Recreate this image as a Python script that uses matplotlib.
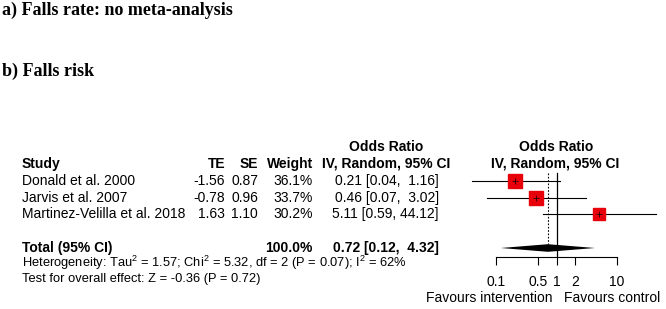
import numpy as np
import matplotlib
matplotlib.use("Agg")
import matplotlib.pyplot as plt

plt.rcParams['font.family'] = ['Liberation Sans', 'DejaVu Sans']
plt.rcParams['mathtext.fontset'] = 'custom'
plt.rcParams['mathtext.rm'] = 'Liberation Sans'

# study data
studies = ["Donald et al. 2000", "Jarvis et al. 2007", "Martinez-Velilla et al. 2018"]
te = [-1.56, -0.78, 1.63]
se = [0.87, 0.96, 1.10]
weight = [36.1, 33.7, 30.2]
odds = [0.21, 0.46, 5.11]
ci_low = [0.04, 0.07, 0.59]
ci_high = [1.16, 3.02, 44.12]

total_or = 0.72
total_low = 0.12
total_high = 4.32
total_weight = 100.0

tick_vals = [0.1, 0.5, 1, 2, 10]
tick_labels = ["0.1", "0.5", "1", "2", "10"]

W, H = 666, 309
fig = plt.figure(figsize=(W / 100, H / 100), dpi=100)

# text layer in pixel coordinates
tx = fig.add_axes([0, 0, 1, 1])
tx.set_xlim(0, W)
tx.set_ylim(H, 0)
tx.axis('off')

serif = ['Liberation Serif', 'DejaVu Serif']
tx.text(2, 15, "a) Falls rate: no meta-analysis", family=serif, weight='bold', fontsize=13, va='baseline')
tx.text(2, 76, "b) Falls risk", family=serif, weight='bold', fontsize=13, va='baseline')

fs = 10
hdr1, hdr2 = 151, 168
row0, step = 185, 16.6
total_y = 252

x_study, x_te, x_se, x_w, x_or = 22, 225, 258, 313, 439
x_orc = 386

tx.text(x_orc, hdr1, "Odds Ratio", ha='center', va='baseline', fontsize=fs, weight='bold')
tx.text(x_study, hdr2, "Study", va='baseline', fontsize=fs, weight='bold')
tx.text(x_te, hdr2, "TE", ha='right', va='baseline', fontsize=fs, weight='bold')
tx.text(x_se, hdr2, "SE", ha='right', va='baseline', fontsize=fs, weight='bold')
tx.text(x_w, hdr2, "Weight", ha='right', va='baseline', fontsize=fs, weight='bold')
tx.text(x_orc, hdr2, "IV, Random, 95% CI", ha='center', va='baseline', fontsize=fs, weight='bold')

for i, name in enumerate(studies):
    y = row0 + i * step
    tx.text(x_study, y, name, va='baseline', fontsize=fs)
    tx.text(x_te, y, f"{te[i]:.2f}", ha='right', va='baseline', fontsize=fs)
    tx.text(x_se, y, f"{se[i]:.2f}", ha='right', va='baseline', fontsize=fs)
    tx.text(x_w, y, f"{weight[i]:.1f}%", ha='right', va='baseline', fontsize=fs)
    tx.text(x_or, y, f"{odds[i]:.2f} [{ci_low[i]:.2f}, {ci_high[i]:>5.2f}]",
            ha='right', va='baseline', fontsize=fs)

tx.text(x_study, total_y, "Total (95% CI)", va='baseline', fontsize=fs, weight='bold')
tx.text(x_w, total_y, f"{total_weight:.1f}%", ha='right', va='baseline', fontsize=fs, weight='bold')
tx.text(x_or, total_y, f"{total_or:.2f} [{total_low:.2f}, {total_high:>5.2f}]",
        ha='right', va='baseline', fontsize=fs, weight='bold')
tx.text(x_study, 267, r"Heterogeneity: Tau$^2$ = 1.57; Chi$^2$ = 5.32, df = 2 (P = 0.07); I$^2$ = 62%",
        va='baseline', fontsize=9.3)
tx.text(x_study, 282, "Test for overall effect: Z = -0.36 (P = 0.72)", va='baseline', fontsize=9.3)

# forest plot panel, log scale: 0.1 at px 496, 10 at px 617
x0, x1 = 460, 666
axis_y = 257
ppd = (617 - 496) / 2.0
lo = 10 ** (-1 + (x0 - 496) / ppd)
hi = 10 ** (-1 + (x1 - 496) / ppd)

ax = fig.add_axes([x0 / W, 1 - axis_y / H, (x1 - x0) / W, axis_y / H])
ax.set_xscale('log')
ax.set_xlim(lo, hi)
ax.set_ylim(axis_y, 0)
ax.patch.set_visible(False)
for s in ['top', 'right', 'left']:
    ax.spines[s].set_visible(False)
ax.spines['bottom'].set_bounds(tick_vals[0], tick_vals[-1])
ax.spines['bottom'].set_linewidth(0.8)
ax.set_yticks([])
ax.set_xticks(tick_vals)
ax.set_xticklabels(tick_labels)
ax.minorticks_off()
ax.tick_params(axis='x', direction='out', length=6, width=0.8, pad=7, labelsize=fs)

ax.text(0.98, hdr1, "Odds Ratio", ha='center', va='baseline', fontsize=fs, weight='bold')
ax.text(0.95, hdr2, "IV, Random, 95% CI", ha='center', va='baseline', fontsize=fs, weight='bold')

top_line = 173
ax.plot([1, 1], [top_line, axis_y], color='black', lw=0.9)
ax.plot([total_or, total_or], [top_line, total_y - 8], color='black', lw=0.8, ls=(0, (1.5, 1.5)))

for i in range(len(studies)):
    yc = row0 + i * step - 4
    ax.plot([ci_low[i], ci_high[i]], [yc, yc], color='black', lw=0.8)
    ax.plot(odds[i], yc, marker='s', ms=10.2 * np.sqrt(weight[i] / max(weight)),
            mfc='#e8000b', mec='#e8000b', ls='none')
    ax.plot(odds[i], yc, marker='+', ms=4, mew=0.5, color='black', ls='none')

yd = total_y - 4
ax.fill([total_low, total_or, total_high, total_or], [yd, yd - 3.8, yd, yd + 3.8],
        color='black', lw=0)

ax.text(0.87, 302, "Favours intervention", ha='right', va='baseline', fontsize=fs, clip_on=False)
ax.text(1.35, 302, "Favours control", ha='left', va='baseline', fontsize=fs, clip_on=False)

fig.savefig("out.png", dpi=100)
